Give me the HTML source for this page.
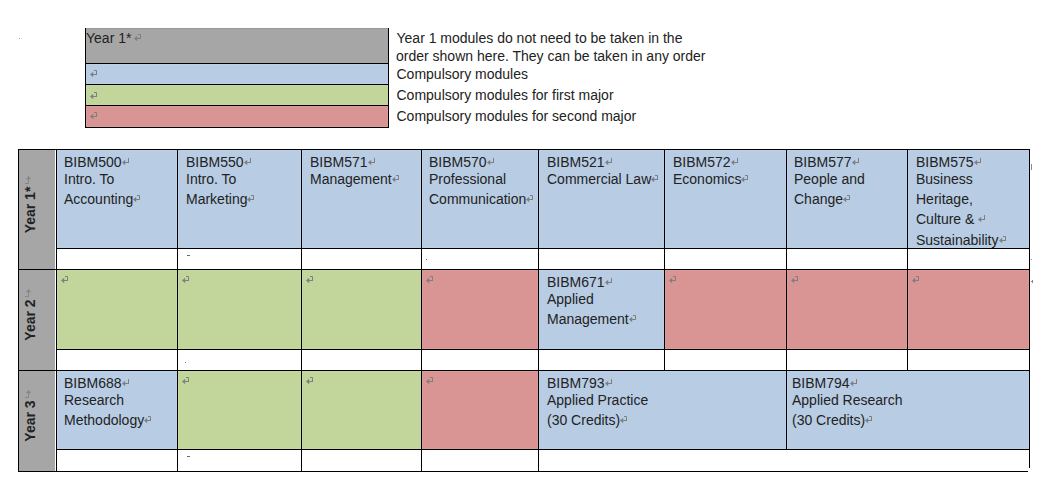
<!DOCTYPE html>
<html><head><meta charset="utf-8"><style>
html,body{margin:0;padding:0;background:#fff;width:1042px;height:487px;overflow:hidden}
body{position:relative;font-family:"Liberation Sans",sans-serif}
div{position:absolute}
.t{white-space:nowrap;color:#222222}
.m{display:inline-block;vertical-align:0px;margin-left:0px}
</style></head><body>
<div style="left:86px;top:28px;width:302px;height:35px;background:#a6a6a6"></div>
<div style="left:86px;top:28px;width:302px;height:1px;background:#999999"></div>
<div style="left:86px;top:64px;width:302px;height:20px;background:#b8cce4;box-shadow:inset 0 0 0 1px #bccfe6"></div>
<div style="left:86px;top:85px;width:302px;height:20px;background:#c2d69b;box-shadow:inset 0 0 0 1px #c6d8a1"></div>
<div style="left:86px;top:106px;width:302px;height:21px;background:#d99594;box-shadow:inset 0 0 0 1px #db9b9a"></div>
<div style="left:85px;top:28px;width:1px;height:100px;background:#000"></div>
<div style="left:388px;top:28px;width:1px;height:100px;background:#000"></div>
<div style="left:85px;top:63px;width:304px;height:1px;background:#000"></div>
<div style="left:85px;top:84px;width:304px;height:1px;background:#000"></div>
<div style="left:85px;top:105px;width:304px;height:1px;background:#000"></div>
<div style="left:85px;top:127px;width:304px;height:1px;background:#000"></div>
<div class="t" style="left:86px;top:31.15px;font-size:14px;line-height:14px;font-weight:normal;color:#222222;">Year 1*</div>
<div style="left:134px;top:34px;width:7px;height:9px;line-height:0"><svg style="display:block" width="7" height="9" viewBox="0 0 7 9"><path d="M4 0.5H6.5V4" stroke="#7f7f7f" stroke-width="1" fill="none"/><path d="M2 4.5H7" stroke="#7f7f7f" stroke-width="1"/><path d="M0 4.5L3.2 1.8V7.2Z" fill="#7f7f7f"/></svg></div>
<div style="left:90px;top:70px;width:7px;height:9px;line-height:0"><svg style="display:block" width="7" height="9" viewBox="0 0 7 9"><path d="M4 0.5H6.5V4" stroke="#7f7f7f" stroke-width="1" fill="none"/><path d="M2 4.5H7" stroke="#7f7f7f" stroke-width="1"/><path d="M0 4.5L3.2 1.8V7.2Z" fill="#7f7f7f"/></svg></div>
<div style="left:90px;top:92px;width:7px;height:9px;line-height:0"><svg style="display:block" width="7" height="9" viewBox="0 0 7 9"><path d="M4 0.5H6.5V4" stroke="#7f7f7f" stroke-width="1" fill="none"/><path d="M2 4.5H7" stroke="#7f7f7f" stroke-width="1"/><path d="M0 4.5L3.2 1.8V7.2Z" fill="#7f7f7f"/></svg></div>
<div style="left:90px;top:112px;width:7px;height:9px;line-height:0"><svg style="display:block" width="7" height="9" viewBox="0 0 7 9"><path d="M4 0.5H6.5V4" stroke="#7f7f7f" stroke-width="1" fill="none"/><path d="M2 4.5H7" stroke="#7f7f7f" stroke-width="1"/><path d="M0 4.5L3.2 1.8V7.2Z" fill="#7f7f7f"/></svg></div>
<div class="t" style="left:396.5px;top:31.15px;font-size:14px;line-height:14px;font-weight:normal;color:#222222;">Year 1 modules do not need to be taken in the</div>
<div class="t" style="left:396px;top:49.15px;font-size:14px;line-height:14px;font-weight:normal;color:#222222;">order shown here. They can be taken in any order</div>
<div class="t" style="left:396.5px;top:67.15px;font-size:14px;line-height:14px;font-weight:normal;color:#222222;">Compulsory modules</div>
<div class="t" style="left:396.5px;top:88.15px;font-size:14px;line-height:14px;font-weight:normal;color:#222222;">Compulsory modules for first major</div>
<div class="t" style="left:396.5px;top:109.15px;font-size:14px;line-height:14px;font-weight:normal;color:#222222;">Compulsory modules for second major</div>
<div style="left:19px;top:150px;width:36px;height:321px;background:#a6a6a6"></div>
<div style="left:57px;top:150px;width:120px;height:98px;background:#b8cce4;box-shadow:inset 0 0 0 1px #bccfe6"></div>
<div style="left:178px;top:150px;width:123px;height:98px;background:#b8cce4;box-shadow:inset 0 0 0 1px #bccfe6"></div>
<div style="left:302px;top:150px;width:119px;height:98px;background:#b8cce4;box-shadow:inset 0 0 0 1px #bccfe6"></div>
<div style="left:422px;top:150px;width:116px;height:98px;background:#b8cce4;box-shadow:inset 0 0 0 1px #bccfe6"></div>
<div style="left:539px;top:150px;width:125px;height:98px;background:#b8cce4;box-shadow:inset 0 0 0 1px #bccfe6"></div>
<div style="left:665px;top:150px;width:121px;height:98px;background:#b8cce4;box-shadow:inset 0 0 0 1px #bccfe6"></div>
<div style="left:787px;top:150px;width:120px;height:98px;background:#b8cce4;box-shadow:inset 0 0 0 1px #bccfe6"></div>
<div style="left:908px;top:150px;width:121px;height:98px;background:#b8cce4;box-shadow:inset 0 0 0 1px #bccfe6"></div>
<div style="left:57px;top:270px;width:120px;height:79px;background:#c2d69b;box-shadow:inset 0 0 0 1px #c6d8a1"></div>
<div style="left:178px;top:270px;width:123px;height:79px;background:#c2d69b;box-shadow:inset 0 0 0 1px #c6d8a1"></div>
<div style="left:302px;top:270px;width:119px;height:79px;background:#c2d69b;box-shadow:inset 0 0 0 1px #c6d8a1"></div>
<div style="left:422px;top:270px;width:116px;height:79px;background:#d99594;box-shadow:inset 0 0 0 1px #db9b9a"></div>
<div style="left:539px;top:270px;width:125px;height:79px;background:#b8cce4;box-shadow:inset 0 0 0 1px #bccfe6"></div>
<div style="left:665px;top:270px;width:121px;height:79px;background:#d99594;box-shadow:inset 0 0 0 1px #db9b9a"></div>
<div style="left:787px;top:270px;width:120px;height:79px;background:#d99594;box-shadow:inset 0 0 0 1px #db9b9a"></div>
<div style="left:908px;top:270px;width:121px;height:79px;background:#d99594;box-shadow:inset 0 0 0 1px #db9b9a"></div>
<div style="left:57px;top:371px;width:120px;height:78px;background:#b8cce4;box-shadow:inset 0 0 0 1px #bccfe6"></div>
<div style="left:178px;top:371px;width:123px;height:78px;background:#c2d69b;box-shadow:inset 0 0 0 1px #c6d8a1"></div>
<div style="left:302px;top:371px;width:119px;height:78px;background:#c2d69b;box-shadow:inset 0 0 0 1px #c6d8a1"></div>
<div style="left:422px;top:371px;width:116px;height:78px;background:#d99594;box-shadow:inset 0 0 0 1px #db9b9a"></div>
<div style="left:539px;top:371px;width:247px;height:78px;background:#b8cce4;box-shadow:inset 0 0 0 1px #bccfe6"></div>
<div style="left:787px;top:371px;width:242px;height:78px;background:#b8cce4;box-shadow:inset 0 0 0 1px #bccfe6"></div>
<div style="left:18px;top:149px;width:1px;height:323px;background:#000"></div>
<div style="left:1029px;top:149px;width:1px;height:319px;background:#000"></div>
<div style="left:18px;top:149px;width:1012px;height:1px;background:#000"></div>
<div style="left:18px;top:269px;width:1012px;height:1px;background:#000"></div>
<div style="left:18px;top:370px;width:1012px;height:1px;background:#000"></div>
<div style="left:18px;top:471px;width:1010px;height:1px;background:#000"></div>
<div style="left:56px;top:248px;width:974px;height:1px;background:#000"></div>
<div style="left:56px;top:349px;width:974px;height:1px;background:#000"></div>
<div style="left:56px;top:449px;width:974px;height:1px;background:#000"></div>
<div style="left:56px;top:149px;width:1px;height:323px;background:#000"></div>
<div style="left:177px;top:149px;width:1px;height:222px;background:#000"></div>
<div style="left:301px;top:149px;width:1px;height:222px;background:#000"></div>
<div style="left:421px;top:149px;width:1px;height:222px;background:#000"></div>
<div style="left:538px;top:149px;width:1px;height:222px;background:#000"></div>
<div style="left:664px;top:149px;width:1px;height:222px;background:#000"></div>
<div style="left:786px;top:149px;width:1px;height:222px;background:#000"></div>
<div style="left:907px;top:149px;width:1px;height:222px;background:#000"></div>
<div style="left:177px;top:370px;width:1px;height:102px;background:#000"></div>
<div style="left:301px;top:370px;width:1px;height:102px;background:#000"></div>
<div style="left:421px;top:370px;width:1px;height:102px;background:#000"></div>
<div style="left:538px;top:370px;width:1px;height:102px;background:#000"></div>
<div style="left:786px;top:370px;width:1px;height:80px;background:#000"></div>
<div style="left:55px;top:150px;width:1px;height:119px;background:#ffffff"></div>
<div style="left:55px;top:270px;width:1px;height:100px;background:#ffffff"></div>
<div style="left:55px;top:371px;width:1px;height:100px;background:#ffffff"></div>
<svg style="position:absolute;left:24px;top:176px" width="7" height="8" viewBox="0 0 7 8"><path d="M4.5 2V7.5H1" stroke="#858585" stroke-width="1" fill="none"/><path d="M4.5 0L1.8 3.2H7.2Z" fill="#858585"/></svg>
<svg style="position:absolute;left:24px;top:289px" width="7" height="8" viewBox="0 0 7 8"><path d="M4.5 2V7.5H1" stroke="#858585" stroke-width="1" fill="none"/><path d="M4.5 0L1.8 3.2H7.2Z" fill="#858585"/></svg>
<svg style="position:absolute;left:24px;top:390px" width="7" height="8" viewBox="0 0 7 8"><path d="M4.5 2V7.5H1" stroke="#858585" stroke-width="1" fill="none"/><path d="M4.5 0L1.8 3.2H7.2Z" fill="#858585"/></svg>
<div style="left:187px;top:255px;width:3px;height:1px;background:#666"></div>
<div style="left:187px;top:456px;width:3px;height:1px;background:#666"></div>
<div style="left:185px;top:362px;width:1px;height:1px;background:#777"></div>
<div style="left:426px;top:259px;width:1px;height:1px;background:#777"></div>
<div style="left:19px;top:38px;width:1px;height:1px;background:#999"></div>
<div style="left:1031px;top:164px;width:1px;height:6px;background:#8a8a8a"></div>
<div style="left:1031px;top:259px;width:1px;height:1px;background:#999"></div>
<div style="left:1031px;top:281px;width:2px;height:1px;background:#888"></div>
<div style="left:1032px;top:280px;width:1px;height:3px;background:#888"></div>
<div class="t" style="left:-10px;top:203px;width:80px;text-align:center;font-size:14px;line-height:14px;font-weight:bold;transform:rotate(-90deg);transform-origin:40px 7px">Year 1*</div>
<div class="t" style="left:-10px;top:313px;width:80px;text-align:center;font-size:14px;line-height:14px;font-weight:bold;transform:rotate(-90deg);transform-origin:40px 7px">Year 2</div>
<div class="t" style="left:-10px;top:413.5px;width:80px;text-align:center;font-size:14px;line-height:14px;font-weight:bold;transform:rotate(-90deg);transform-origin:40px 7px">Year 3</div>
<div class="t" style="left:64px;top:155.15px;font-size:14px;line-height:14px;font-weight:normal;color:#222222;">BIBM500<svg class="m" width="7" height="9" viewBox="0 0 7 9"><path d="M6.5 0V4" stroke="#7f7f7f" stroke-width="1" fill="none"/><path d="M2 4.5H7" stroke="#7f7f7f" stroke-width="1"/><path d="M0 4.5L3.2 1.8V7.2Z" fill="#7f7f7f"/></svg></div>
<div class="t" style="left:64px;top:172.15px;font-size:14px;line-height:14px;font-weight:normal;color:#222222;">Intro. To</div>
<div class="t" style="left:64px;top:192.15px;font-size:14px;line-height:14px;font-weight:normal;color:#222222;">Accounting<svg class="m" width="7" height="9" viewBox="0 0 7 9"><path d="M4 0.5H6.5V4" stroke="#7f7f7f" stroke-width="1" fill="none"/><path d="M2 4.5H7" stroke="#7f7f7f" stroke-width="1"/><path d="M0 4.5L3.2 1.8V7.2Z" fill="#7f7f7f"/></svg></div>
<div class="t" style="left:186px;top:155.15px;font-size:14px;line-height:14px;font-weight:normal;color:#222222;">BIBM550<svg class="m" width="7" height="9" viewBox="0 0 7 9"><path d="M6.5 0V4" stroke="#7f7f7f" stroke-width="1" fill="none"/><path d="M2 4.5H7" stroke="#7f7f7f" stroke-width="1"/><path d="M0 4.5L3.2 1.8V7.2Z" fill="#7f7f7f"/></svg></div>
<div class="t" style="left:186px;top:172.15px;font-size:14px;line-height:14px;font-weight:normal;color:#222222;">Intro. To</div>
<div class="t" style="left:186px;top:192.15px;font-size:14px;line-height:14px;font-weight:normal;color:#222222;">Marketing<svg class="m" width="7" height="9" viewBox="0 0 7 9"><path d="M4 0.5H6.5V4" stroke="#7f7f7f" stroke-width="1" fill="none"/><path d="M2 4.5H7" stroke="#7f7f7f" stroke-width="1"/><path d="M0 4.5L3.2 1.8V7.2Z" fill="#7f7f7f"/></svg></div>
<div class="t" style="left:310px;top:155.15px;font-size:14px;line-height:14px;font-weight:normal;color:#222222;">BIBM571<svg class="m" width="7" height="9" viewBox="0 0 7 9"><path d="M6.5 0V4" stroke="#7f7f7f" stroke-width="1" fill="none"/><path d="M2 4.5H7" stroke="#7f7f7f" stroke-width="1"/><path d="M0 4.5L3.2 1.8V7.2Z" fill="#7f7f7f"/></svg></div>
<div class="t" style="left:310px;top:172.15px;font-size:14px;line-height:14px;font-weight:normal;color:#222222;">Management<svg class="m" width="7" height="9" viewBox="0 0 7 9"><path d="M4 0.5H6.5V4" stroke="#7f7f7f" stroke-width="1" fill="none"/><path d="M2 4.5H7" stroke="#7f7f7f" stroke-width="1"/><path d="M0 4.5L3.2 1.8V7.2Z" fill="#7f7f7f"/></svg></div>
<div class="t" style="left:429px;top:155.15px;font-size:14px;line-height:14px;font-weight:normal;color:#222222;">BIBM570<svg class="m" width="7" height="9" viewBox="0 0 7 9"><path d="M6.5 0V4" stroke="#7f7f7f" stroke-width="1" fill="none"/><path d="M2 4.5H7" stroke="#7f7f7f" stroke-width="1"/><path d="M0 4.5L3.2 1.8V7.2Z" fill="#7f7f7f"/></svg></div>
<div class="t" style="left:429px;top:172.15px;font-size:14px;line-height:14px;font-weight:normal;color:#222222;">Professional</div>
<div class="t" style="left:429px;top:192.15px;font-size:14px;line-height:14px;font-weight:normal;color:#222222;">Communication<svg class="m" width="7" height="9" viewBox="0 0 7 9"><path d="M4 0.5H6.5V4" stroke="#7f7f7f" stroke-width="1" fill="none"/><path d="M2 4.5H7" stroke="#7f7f7f" stroke-width="1"/><path d="M0 4.5L3.2 1.8V7.2Z" fill="#7f7f7f"/></svg></div>
<div class="t" style="left:547px;top:155.15px;font-size:14px;line-height:14px;font-weight:normal;color:#222222;">BIBM521<svg class="m" width="7" height="9" viewBox="0 0 7 9"><path d="M6.5 0V4" stroke="#7f7f7f" stroke-width="1" fill="none"/><path d="M2 4.5H7" stroke="#7f7f7f" stroke-width="1"/><path d="M0 4.5L3.2 1.8V7.2Z" fill="#7f7f7f"/></svg></div>
<div class="t" style="left:547px;top:172.15px;font-size:14px;line-height:14px;font-weight:normal;color:#222222;">Commercial Law<svg class="m" width="7" height="9" viewBox="0 0 7 9"><path d="M4 0.5H6.5V4" stroke="#7f7f7f" stroke-width="1" fill="none"/><path d="M2 4.5H7" stroke="#7f7f7f" stroke-width="1"/><path d="M0 4.5L3.2 1.8V7.2Z" fill="#7f7f7f"/></svg></div>
<div class="t" style="left:673px;top:155.15px;font-size:14px;line-height:14px;font-weight:normal;color:#222222;">BIBM572<svg class="m" width="7" height="9" viewBox="0 0 7 9"><path d="M6.5 0V4" stroke="#7f7f7f" stroke-width="1" fill="none"/><path d="M2 4.5H7" stroke="#7f7f7f" stroke-width="1"/><path d="M0 4.5L3.2 1.8V7.2Z" fill="#7f7f7f"/></svg></div>
<div class="t" style="left:673px;top:172.15px;font-size:14px;line-height:14px;font-weight:normal;color:#222222;">Economics<svg class="m" width="7" height="9" viewBox="0 0 7 9"><path d="M4 0.5H6.5V4" stroke="#7f7f7f" stroke-width="1" fill="none"/><path d="M2 4.5H7" stroke="#7f7f7f" stroke-width="1"/><path d="M0 4.5L3.2 1.8V7.2Z" fill="#7f7f7f"/></svg></div>
<div class="t" style="left:794px;top:155.15px;font-size:14px;line-height:14px;font-weight:normal;color:#222222;">BIBM577<svg class="m" width="7" height="9" viewBox="0 0 7 9"><path d="M6.5 0V4" stroke="#7f7f7f" stroke-width="1" fill="none"/><path d="M2 4.5H7" stroke="#7f7f7f" stroke-width="1"/><path d="M0 4.5L3.2 1.8V7.2Z" fill="#7f7f7f"/></svg></div>
<div class="t" style="left:794px;top:172.15px;font-size:14px;line-height:14px;font-weight:normal;color:#222222;">People and</div>
<div class="t" style="left:794px;top:192.15px;font-size:14px;line-height:14px;font-weight:normal;color:#222222;">Change<svg class="m" width="7" height="9" viewBox="0 0 7 9"><path d="M4 0.5H6.5V4" stroke="#7f7f7f" stroke-width="1" fill="none"/><path d="M2 4.5H7" stroke="#7f7f7f" stroke-width="1"/><path d="M0 4.5L3.2 1.8V7.2Z" fill="#7f7f7f"/></svg></div>
<div class="t" style="left:916px;top:155.15px;font-size:14px;line-height:14px;font-weight:normal;color:#222222;">BIBM575<svg class="m" width="7" height="9" viewBox="0 0 7 9"><path d="M6.5 0V4" stroke="#7f7f7f" stroke-width="1" fill="none"/><path d="M2 4.5H7" stroke="#7f7f7f" stroke-width="1"/><path d="M0 4.5L3.2 1.8V7.2Z" fill="#7f7f7f"/></svg></div>
<div class="t" style="left:916px;top:172.15px;font-size:14px;line-height:14px;font-weight:normal;color:#222222;">Business</div>
<div class="t" style="left:916px;top:192.15px;font-size:14px;line-height:14px;font-weight:normal;color:#222222;">Heritage,</div>
<div class="t" style="left:916px;top:212.15px;font-size:14px;line-height:14px;font-weight:normal;color:#222222;">Culture &amp; <svg class="m" width="7" height="9" viewBox="0 0 7 9"><path d="M6.5 0V4" stroke="#7f7f7f" stroke-width="1" fill="none"/><path d="M2 4.5H7" stroke="#7f7f7f" stroke-width="1"/><path d="M0 4.5L3.2 1.8V7.2Z" fill="#7f7f7f"/></svg></div>
<div class="t" style="left:916px;top:233.15px;font-size:14px;line-height:14px;font-weight:normal;color:#222222;">Sustainability<svg class="m" width="7" height="9" viewBox="0 0 7 9"><path d="M4 0.5H6.5V4" stroke="#7f7f7f" stroke-width="1" fill="none"/><path d="M2 4.5H7" stroke="#7f7f7f" stroke-width="1"/><path d="M0 4.5L3.2 1.8V7.2Z" fill="#7f7f7f"/></svg></div>
<div class="t" style="left:547px;top:275.15px;font-size:14px;line-height:14px;font-weight:normal;color:#222222;">BIBM671<svg class="m" width="7" height="9" viewBox="0 0 7 9"><path d="M6.5 0V4" stroke="#7f7f7f" stroke-width="1" fill="none"/><path d="M2 4.5H7" stroke="#7f7f7f" stroke-width="1"/><path d="M0 4.5L3.2 1.8V7.2Z" fill="#7f7f7f"/></svg></div>
<div class="t" style="left:547px;top:292.15px;font-size:14px;line-height:14px;font-weight:normal;color:#222222;">Applied</div>
<div class="t" style="left:547px;top:312.15px;font-size:14px;line-height:14px;font-weight:normal;color:#222222;">Management<svg class="m" width="7" height="9" viewBox="0 0 7 9"><path d="M4 0.5H6.5V4" stroke="#7f7f7f" stroke-width="1" fill="none"/><path d="M2 4.5H7" stroke="#7f7f7f" stroke-width="1"/><path d="M0 4.5L3.2 1.8V7.2Z" fill="#7f7f7f"/></svg></div>
<div class="t" style="left:64px;top:376.15px;font-size:14px;line-height:14px;font-weight:normal;color:#222222;">BIBM688<svg class="m" width="7" height="9" viewBox="0 0 7 9"><path d="M6.5 0V4" stroke="#7f7f7f" stroke-width="1" fill="none"/><path d="M2 4.5H7" stroke="#7f7f7f" stroke-width="1"/><path d="M0 4.5L3.2 1.8V7.2Z" fill="#7f7f7f"/></svg></div>
<div class="t" style="left:64px;top:393.15px;font-size:14px;line-height:14px;font-weight:normal;color:#222222;">Research</div>
<div class="t" style="left:64px;top:413.15px;font-size:14px;line-height:14px;font-weight:normal;color:#222222;">Methodology<svg class="m" width="7" height="9" viewBox="0 0 7 9"><path d="M4 0.5H6.5V4" stroke="#7f7f7f" stroke-width="1" fill="none"/><path d="M2 4.5H7" stroke="#7f7f7f" stroke-width="1"/><path d="M0 4.5L3.2 1.8V7.2Z" fill="#7f7f7f"/></svg></div>
<div class="t" style="left:547px;top:376.15px;font-size:14px;line-height:14px;font-weight:normal;color:#222222;">BIBM793<svg class="m" width="7" height="9" viewBox="0 0 7 9"><path d="M6.5 0V4" stroke="#7f7f7f" stroke-width="1" fill="none"/><path d="M2 4.5H7" stroke="#7f7f7f" stroke-width="1"/><path d="M0 4.5L3.2 1.8V7.2Z" fill="#7f7f7f"/></svg></div>
<div class="t" style="left:547px;top:393.15px;font-size:14px;line-height:14px;font-weight:normal;color:#222222;">Applied Practice</div>
<div class="t" style="left:547px;top:413.15px;font-size:14px;line-height:14px;font-weight:normal;color:#222222;">(30 Credits)<svg class="m" width="7" height="9" viewBox="0 0 7 9"><path d="M4 0.5H6.5V4" stroke="#7f7f7f" stroke-width="1" fill="none"/><path d="M2 4.5H7" stroke="#7f7f7f" stroke-width="1"/><path d="M0 4.5L3.2 1.8V7.2Z" fill="#7f7f7f"/></svg></div>
<div class="t" style="left:792px;top:376.15px;font-size:14px;line-height:14px;font-weight:normal;color:#222222;">BIBM794<svg class="m" width="7" height="9" viewBox="0 0 7 9"><path d="M6.5 0V4" stroke="#7f7f7f" stroke-width="1" fill="none"/><path d="M2 4.5H7" stroke="#7f7f7f" stroke-width="1"/><path d="M0 4.5L3.2 1.8V7.2Z" fill="#7f7f7f"/></svg></div>
<div class="t" style="left:792px;top:393.15px;font-size:14px;line-height:14px;font-weight:normal;color:#222222;">Applied Research</div>
<div class="t" style="left:792px;top:413.15px;font-size:14px;line-height:14px;font-weight:normal;color:#222222;">(30 Credits)<svg class="m" width="7" height="9" viewBox="0 0 7 9"><path d="M4 0.5H6.5V4" stroke="#7f7f7f" stroke-width="1" fill="none"/><path d="M2 4.5H7" stroke="#7f7f7f" stroke-width="1"/><path d="M0 4.5L3.2 1.8V7.2Z" fill="#7f7f7f"/></svg></div>
<div style="left:61px;top:276px;width:7px;height:9px;line-height:0"><svg style="display:block" width="7" height="9" viewBox="0 0 7 9"><path d="M4 0.5H6.5V4" stroke="#7f7f7f" stroke-width="1" fill="none"/><path d="M2 4.5H7" stroke="#7f7f7f" stroke-width="1"/><path d="M0 4.5L3.2 1.8V7.2Z" fill="#7f7f7f"/></svg></div>
<div style="left:182px;top:276px;width:7px;height:9px;line-height:0"><svg style="display:block" width="7" height="9" viewBox="0 0 7 9"><path d="M4 0.5H6.5V4" stroke="#7f7f7f" stroke-width="1" fill="none"/><path d="M2 4.5H7" stroke="#7f7f7f" stroke-width="1"/><path d="M0 4.5L3.2 1.8V7.2Z" fill="#7f7f7f"/></svg></div>
<div style="left:306px;top:276px;width:7px;height:9px;line-height:0"><svg style="display:block" width="7" height="9" viewBox="0 0 7 9"><path d="M4 0.5H6.5V4" stroke="#7f7f7f" stroke-width="1" fill="none"/><path d="M2 4.5H7" stroke="#7f7f7f" stroke-width="1"/><path d="M0 4.5L3.2 1.8V7.2Z" fill="#7f7f7f"/></svg></div>
<div style="left:426px;top:276px;width:7px;height:9px;line-height:0"><svg style="display:block" width="7" height="9" viewBox="0 0 7 9"><path d="M4 0.5H6.5V4" stroke="#7f7f7f" stroke-width="1" fill="none"/><path d="M2 4.5H7" stroke="#7f7f7f" stroke-width="1"/><path d="M0 4.5L3.2 1.8V7.2Z" fill="#7f7f7f"/></svg></div>
<div style="left:669px;top:276px;width:7px;height:9px;line-height:0"><svg style="display:block" width="7" height="9" viewBox="0 0 7 9"><path d="M4 0.5H6.5V4" stroke="#7f7f7f" stroke-width="1" fill="none"/><path d="M2 4.5H7" stroke="#7f7f7f" stroke-width="1"/><path d="M0 4.5L3.2 1.8V7.2Z" fill="#7f7f7f"/></svg></div>
<div style="left:791px;top:276px;width:7px;height:9px;line-height:0"><svg style="display:block" width="7" height="9" viewBox="0 0 7 9"><path d="M4 0.5H6.5V4" stroke="#7f7f7f" stroke-width="1" fill="none"/><path d="M2 4.5H7" stroke="#7f7f7f" stroke-width="1"/><path d="M0 4.5L3.2 1.8V7.2Z" fill="#7f7f7f"/></svg></div>
<div style="left:912px;top:276px;width:7px;height:9px;line-height:0"><svg style="display:block" width="7" height="9" viewBox="0 0 7 9"><path d="M4 0.5H6.5V4" stroke="#7f7f7f" stroke-width="1" fill="none"/><path d="M2 4.5H7" stroke="#7f7f7f" stroke-width="1"/><path d="M0 4.5L3.2 1.8V7.2Z" fill="#7f7f7f"/></svg></div>
<div style="left:182px;top:377px;width:7px;height:9px;line-height:0"><svg style="display:block" width="7" height="9" viewBox="0 0 7 9"><path d="M4 0.5H6.5V4" stroke="#7f7f7f" stroke-width="1" fill="none"/><path d="M2 4.5H7" stroke="#7f7f7f" stroke-width="1"/><path d="M0 4.5L3.2 1.8V7.2Z" fill="#7f7f7f"/></svg></div>
<div style="left:306px;top:377px;width:7px;height:9px;line-height:0"><svg style="display:block" width="7" height="9" viewBox="0 0 7 9"><path d="M4 0.5H6.5V4" stroke="#7f7f7f" stroke-width="1" fill="none"/><path d="M2 4.5H7" stroke="#7f7f7f" stroke-width="1"/><path d="M0 4.5L3.2 1.8V7.2Z" fill="#7f7f7f"/></svg></div>
<div style="left:426px;top:377px;width:7px;height:9px;line-height:0"><svg style="display:block" width="7" height="9" viewBox="0 0 7 9"><path d="M4 0.5H6.5V4" stroke="#7f7f7f" stroke-width="1" fill="none"/><path d="M2 4.5H7" stroke="#7f7f7f" stroke-width="1"/><path d="M0 4.5L3.2 1.8V7.2Z" fill="#7f7f7f"/></svg></div>
</body></html>
